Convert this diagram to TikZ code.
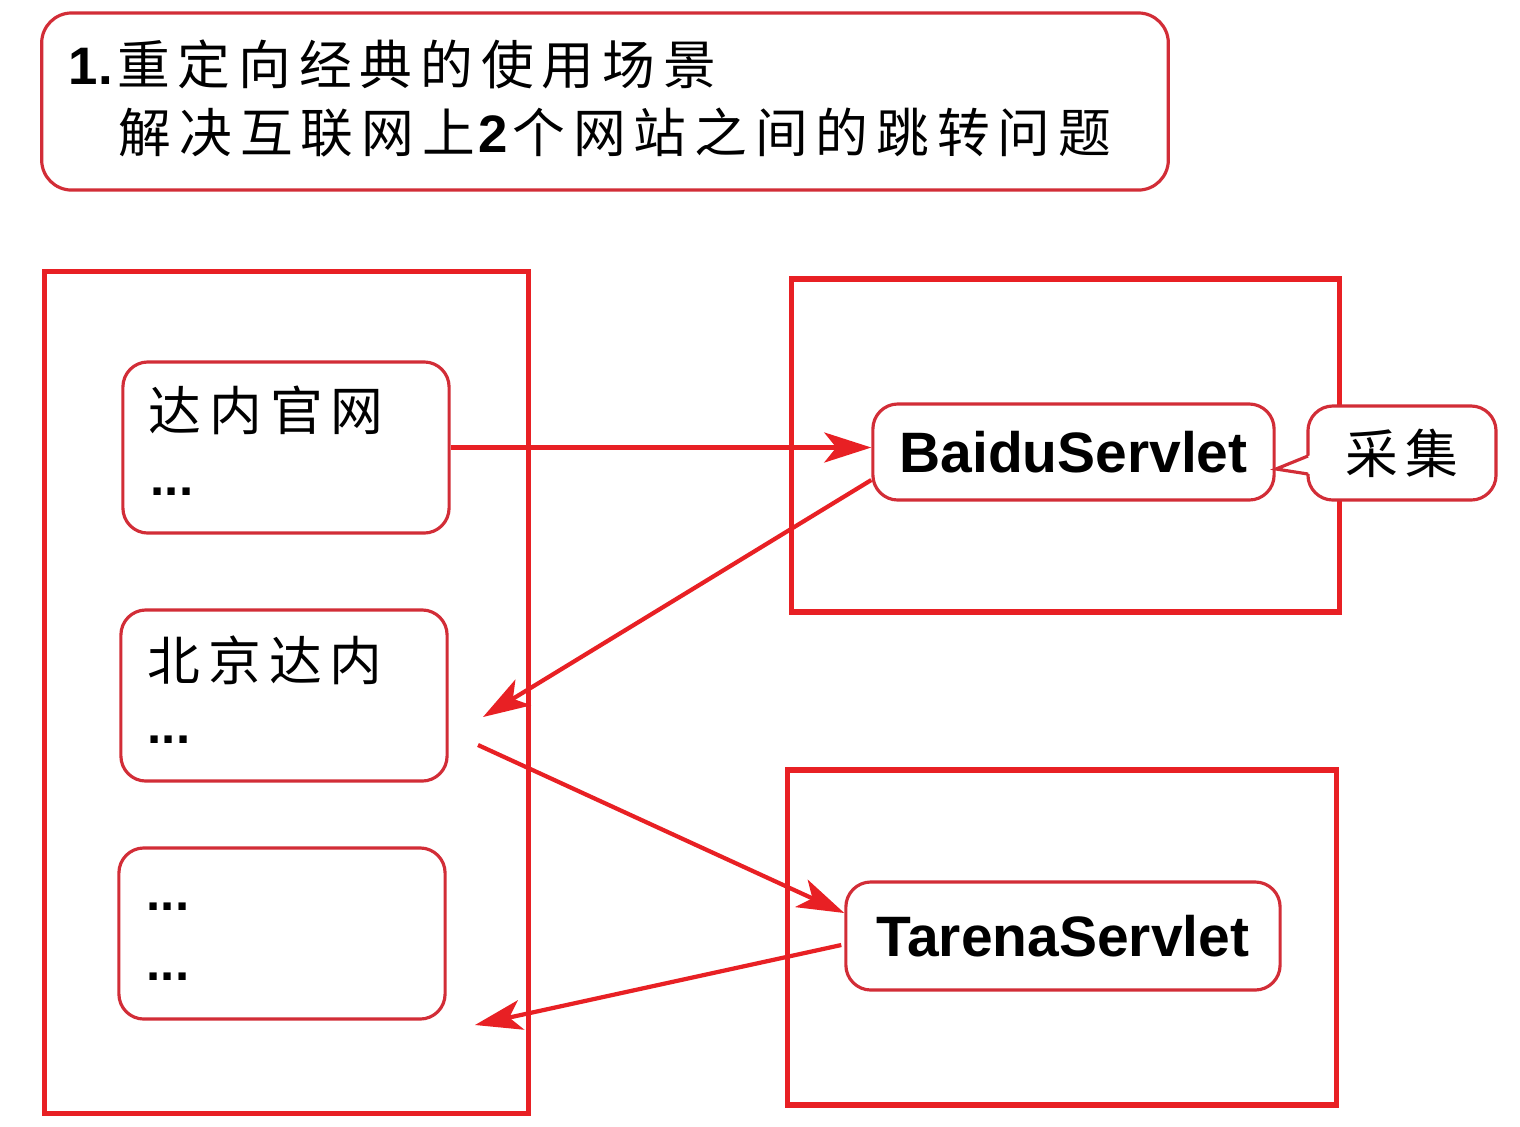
\documentclass[tikz,border=0pt]{standalone}
\usepackage{fontspec}
\setmainfont{Liberation Sans}
\newfontfamily\cjk{Noto Sans CJK SC}[LetterSpace=15]
\usetikzlibrary{arrows.meta,calc}
\definecolor{linered}{RGB}{232,32,36}
\definecolor{boxred}{RGB}{210,45,55}
\begin{document}
\begin{tikzpicture}[x=0.01cm,y=-0.01cm,
  outerbox/.style={draw=linered,line width=1.5pt,minimum width=#1},
  roundbox/.style={draw=boxred,line width=0.9pt,fill=white,rounded corners=0.25cm},
  conn/.style={draw=linered,line width=1.2pt,-{Stealth[length=0.47cm,width=0.3cm,inset=0.12cm]}},
  cjktext/.style={inner sep=0pt,anchor=west,font=\cjk\fontsize{15pt}{18pt}\selectfont},
  dots/.style={inner sep=0pt,anchor=west,font=\bfseries\fontsize{14.5pt}{17pt}\selectfont},
  servlet/.style={roundbox,font=\bfseries\fontsize{16.2pt}{19pt}\selectfont,inner sep=0pt}
]
\fill[white] (0,0) rectangle (1520,1126);
\useasboundingbox (0,0) rectangle (1520,1126);

% title
\node[roundbox,rounded corners=0.3cm,minimum width=11.26cm,minimum height=1.77cm] (title) at (605,101.5) {};
\node[cjktext] (t1) at (68,64) {{\rmfamily\bfseries 1.}\kern1.3pt 重定向经典的使用场景};
\node[cjktext] (t2) at (118,133) {解决互联网上\kern1.2pt{\rmfamily\bfseries 2}\kern1.2pt 个网站之间的跳转问题};

% outer rectangles
\node[outerbox=4.83cm,minimum height=8.41cm] (left) at (286.5,692.5) {};
\node[outerbox=5.47cm,minimum height=3.33cm] (rtop) at (1065.5,445.5) {};
\node[outerbox=5.48cm,minimum height=3.35cm] (rbot) at (1062,937.5) {};

% inner boxes
\node[roundbox,minimum width=3.26cm,minimum height=1.71cm] (b1) at (286,447.5) {};
\node[roundbox,minimum width=3.26cm,minimum height=1.71cm] (b2) at (284,695.5) {};
\node[roundbox,minimum width=3.26cm,minimum height=1.71cm] (b3) at (282,933.5) {};
\node[cjktext] (b1t) at (148,410) {达内官网};
\node[dots] (b1d) at (150,492) {...};
\node[cjktext] (b2t) at (147,660) {北京达内};
\node[dots] (b2d) at (147,740) {...};
\node[dots] (b3d) at (146,907) {...};
\node[dots] (b3e) at (146,977) {...};

% servlets
\node[servlet,minimum width=4.01cm,minimum height=0.96cm] (baidu) at (1073.5,452) {BaiduServlet};
\node[servlet,minimum width=4.34cm,minimum height=1.08cm] (tarena) at (1063,936) {TarenaServlet};

% callout
\node[roundbox,minimum width=1.88cm,minimum height=0.94cm,inner sep=0pt,font=\cjk\fontsize{15pt}{18pt}\selectfont] (cj) at (1402,453) {采集};
\fill[white] (1311,455) -- (1276,469) -- (1311,474) -- cycle;
\draw[boxred,line width=0.9pt] (1308,456) -- (1276,469) -- (1308,474);

% connectors
\coordinate (a2s) at ($(baidu.west)+(0,28)$);
\coordinate (a2e) at (483,717);
\coordinate (a3s) at (478,745);
\coordinate (a3e) at ($(tarena.west)+(0,-23)$);
\coordinate (a4s) at ($(tarena.west)+(-3,9)$);
\coordinate (a4e) at (475,1025);
\draw[conn] (b1.east) -- (b1.east -| baidu.west);
\draw[conn] (a2s) -- (a2e);
\draw[conn] (a3s) -- (a3e);
\draw[conn] (a4s) -- (a4e);
\end{tikzpicture}
\end{document}
